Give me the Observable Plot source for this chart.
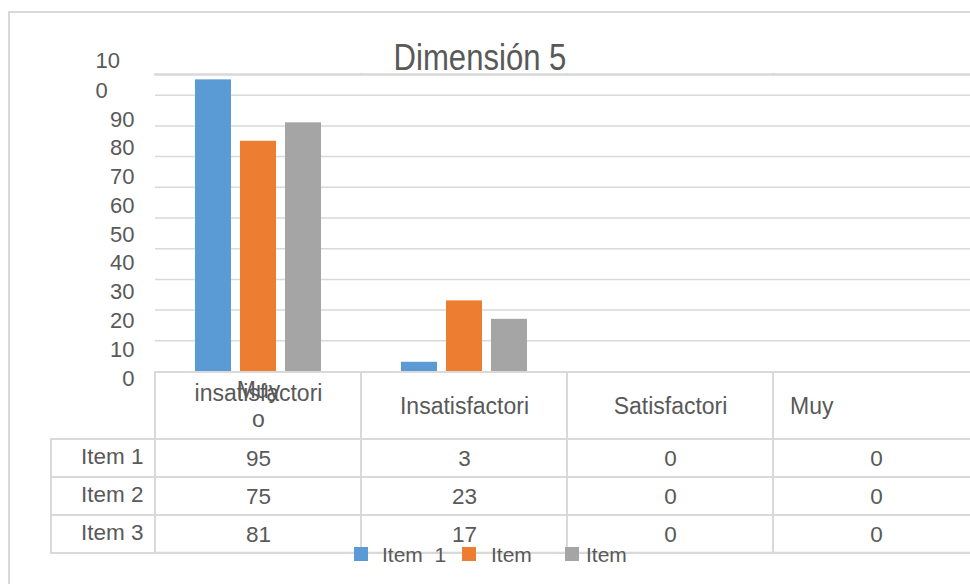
<!DOCTYPE html>
<html>
<head>
<meta charset="utf-8">
<script src="https://cdn.jsdelivr.net/npm/d3@7"></script>
<script src="https://cdn.jsdelivr.net/npm/@observablehq/plot@0.6"></script>
<style>
  html, body { margin: 0; padding: 0; background: #fff; }
  #chart {
    position: relative; width: 970px; height: 584px; overflow: hidden; background: #fff;
    font-family: "Liberation Sans", Arial, sans-serif; color: #595959;
  }
  #chart svg { position: absolute; left: 0; top: 0; }
  .outline {
    position: absolute; left: 8px; top: 11px; width: 1000px; height: 600px;
    border-left: 2px solid #d9d9d9; border-top: 2px solid #d9d9d9;
  }
  .title {
    position: absolute; left: 0; top: 38.7px; width: 960px; text-align: center;
    font-size: 37px; line-height: 37px; white-space: nowrap;
    transform: scaleX(0.84); transform-origin: 480px 50%;
  }
  .swatch { position: absolute; top: 547px; width: 14px; height: 14px; }
  .legend-label { position: absolute; top: 544px; font-size: 21px; line-height: 21px; white-space: pre; }
</style>
</head>
<body>
<div id="chart">
  <div class="outline"></div>
</div>
<script>
// Categories (columns of the data table) and their header texts
const categories = ["Muy insatisfactorio", "Insatisfactorio", "Satisfactorio", "Muy satisfactorio"];
const headerLabels = ["Muy\ninsatisfactori\no", "Insatisfactori", "Satisfactori", "Muy"];

// Series (rows of the data table)
const series = ["Item 1", "Item 2", "Item 3"];
const legendLabels = ["Item  1", "Item", "Item"];
const seriesColors = ["#5b9bd5", "#ed7d31", "#a5a5a5"];

// Values per series, one per category
const item1Values = [95, 3, 0, 0];
const item2Values = [75, 23, 0, 0];
const item3Values = [81, 17, 0, 0];

// Value axis
const yTicks = [0, 10, 20, 30, 40, 50, 60, 70, 80, 90, 100];
const yTickLabels = ["0", "10", "20", "30", "40", "50", "60", "70", "80", "90", "10\n0"];
const gridTicks = [10, 20, 30, 40, 50, 60, 70, 80, 90];

const chartTitle = "Dimensión 5";

// Tidy rows built from the arrays above
const seriesValues = [item1Values, item2Values, item3Values];
const rows = [];
series.forEach((s, si) => {
  categories.forEach((c, ci) => rows.push({series: s, category: c, value: seriesValues[si][ci]}));
});
const header = categories.map((c, i) => ({category: c, label: headerLabels[i], index: i}));

const ink = "#595959";
const rule = "#d9d9d9";
const font = "'Liberation Sans', Arial, sans-serif";
const svgStyle = {background: "none", maxWidth: "none", overflow: "visible", fontFamily: font};

const chart = document.getElementById("chart");

// Clustered bars, one facet per category
const bars = Plot.plot({
  width: 990, height: 584,
  marginLeft: 154, marginRight: 10, marginTop: 74, marginBottom: 213,
  style: svgStyle,
  facet: {data: rows, x: "category", marginTop: 0, marginBottom: 0, marginLeft: 0, marginRight: 0},
  fx: {domain: categories, range: [154, 980], paddingInner: 0, paddingOuter: 0, axis: null, label: null},
  x: {domain: series, paddingInner: 0.2, paddingOuter: 0.84, axis: null},
  y: {domain: [0, 100], range: [371, 64], axis: null},
  color: {domain: series, range: seriesColors},
  marks: [
    Plot.ruleY(gridTicks, {y: d => d, stroke: rule, strokeWidth: 1.5}),
    Plot.frame({anchor: "top", stroke: rule, strokeWidth: 2.5}),
    Plot.barY(rows, {x: "series", y: "value", fill: "series"})
  ]
});
chart.appendChild(bars);

// Data table under the bars
const table = Plot.plot({
  width: 990, height: 584,
  marginLeft: 51, marginRight: 10, marginTop: 372, marginBottom: 31.3,
  style: svgStyle,
  x: {domain: categories, range: [154, 980], padding: 0, axis: null},
  y: {domain: series, range: [438.3, 552.7], padding: 0, axis: null},
  marks: [
    Plot.cell(categories, {x: d => d, fill: "none", stroke: rule, strokeWidth: 2, inset: 0}),
    Plot.cell(series, {y: d => d, fill: "none", stroke: rule, strokeWidth: 2, inset: 0}),
    Plot.text(rows, {x: "category", y: "series", text: d => String(d.value), fontSize: 22.5, fill: ink}),
    Plot.text(series, {y: d => d, text: d => d, frameAnchor: "left", textAnchor: "end", dx: 92, dy: -2, fontSize: 22.5, fill: ink}),
    // centred single-line headers
    Plot.text(header.filter(h => h.index === 1 || h.index === 2), {
      x: "category", text: "label", frameAnchor: "top", lineAnchor: "bottom", dy: 41.7, fontSize: 23, fill: ink
    }),
    // first header: wrapped label, first line drawn over the second
    Plot.text(header.filter(h => h.index === 0), {
      x: "category", text: d => d.label.split("\n")[0], frameAnchor: "top", lineAnchor: "bottom", dy: 25, fontSize: 23, fill: ink
    }),
    Plot.text(header.filter(h => h.index === 0), {
      x: "category", text: d => d.label.split("\n").slice(1).join("\n"), frameAnchor: "top", lineAnchor: "bottom",
      dy: 54.7, lineHeight: 1.13, fontSize: 23, fill: ink
    }),
    // last header, left-aligned in its cell
    Plot.text(header.filter(h => h.index === 3), {
      x: "category", text: "label", frameAnchor: "top", lineAnchor: "bottom", textAnchor: "start",
      dx: -86.5, dy: 41.7, fontSize: 23, fill: ink
    })
  ]
});
chart.appendChild(table);

// Value-axis labels
const axisTicks = yTicks.map((v, i) => ({value: v, label: yTickLabels[i]}));
const axis = Plot.plot({
  width: 154, height: 584,
  marginLeft: 95, marginRight: 20, marginTop: 0, marginBottom: 0,
  style: svgStyle,
  y: {domain: [0, 100], range: [378, 90.2], axis: null},
  marks: [
    Plot.text(axisTicks.filter(t => !t.label.includes("\n")), {
      y: "value", text: "label", frameAnchor: "right", textAnchor: "end", fontSize: 22, fill: ink
    }),
    Plot.text(axisTicks.filter(t => t.label.includes("\n")), {
      y: "value", text: "label", frameAnchor: "left", textAnchor: "start", lineAnchor: "bottom",
      dy: 7.5, lineHeight: 1.38, fontSize: 22, fill: ink
    })
  ]
});
chart.appendChild(axis);

// Title
const title = document.createElement("div");
title.className = "title";
title.textContent = chartTitle;
chart.appendChild(title);

// Legend
const swatchLeft = [354, 462, 565];
const labelLeft = [382, 491, 586];
series.forEach((s, i) => {
  const sw = document.createElement("div");
  sw.className = "swatch";
  sw.style.left = swatchLeft[i] + "px";
  sw.style.background = seriesColors[i];
  chart.appendChild(sw);
  const lb = document.createElement("div");
  lb.className = "legend-label";
  lb.style.left = labelLeft[i] + "px";
  lb.textContent = legendLabels[i];
  chart.appendChild(lb);
});
</script>
</body>
</html>
